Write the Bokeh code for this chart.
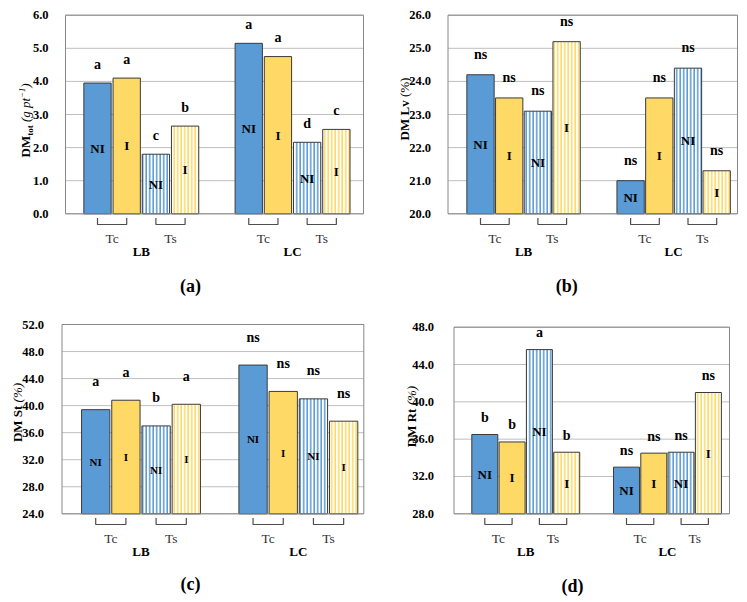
import math
from bokeh.plotting import figure
from bokeh.models import Range1d, FixedTicker, PrintfTickFormatter
from bokeh.layouts import column, row
from bokeh.embed import file_html
from bokeh.resources import INLINE
from bokeh.core.properties import value

FONT = "Liberation Serif"

# ---------------- data ----------------
bar_groups = ["LB", "LB", "LB", "LB", "LC", "LC", "LC", "LC"]
bar_treat = ["Tc", "Tc", "Ts", "Ts", "Tc", "Tc", "Ts", "Ts"]
bar_irr = ["NI", "I", "NI", "I", "NI", "I", "NI", "I"]
group_names = ["LB", "LC"]
treat_names = ["Tc", "Ts"]

dm_tot = [3.95, 4.10, 1.80, 2.65, 5.15, 4.75, 2.16, 2.55]
dm_tot_letters = ["a", "a", "c", "b", "a", "a", "d", "c"]
dm_tot_ticks = [0, 1, 2, 3, 4, 5, 6]

dm_lv = [24.2, 23.5, 23.1, 25.2, 21.0, 23.5, 24.4, 21.3]
dm_lv_letters = ["ns", "ns", "ns", "ns", "ns", "ns", "ns", "ns"]
dm_lv_ticks = [20, 21, 22, 23, 24, 25, 26]

dm_st = [39.4, 40.8, 37.0, 40.2, 46.0, 42.1, 41.0, 37.7]
dm_st_letters = ["a", "a", "b", "a", "ns", "ns", "ns", "ns"]
dm_st_ticks = [24, 28, 32, 36, 40, 44, 48, 52]

dm_rt = [36.5, 35.7, 45.6, 34.6, 33.0, 34.5, 34.6, 41.0]
dm_rt_letters = ["b", "b", "a", "b", "ns", "ns", "ns", "ns"]
dm_rt_ticks = [28, 32, 36, 40, 44, 48]

panel_titles = ["(a)", "(b)", "(c)", "(d)"]

# ---------------- styling ----------------
BLUE = "#5B9BD5"
YELLOW = "#FFD966"
COLORS = {"NI": BLUE, "I": YELLOW}
GRID = "#BFBFBF"
FRAME = "#888888"
EDGE = "#3A3A3A"

# approximate Times advance widths (em)
W_BOLD = {"D": .722, "M": .944, " ": .25, "L": .667, "v": .5, "S": .556, "t": .333,
          "R": .722, "o": .5}
W_REG = {" ": .25, "(": .333, "%": .833, ")": .333, "g": .5, "p": .5, "t": .278,
         "\u2212": .675, "1": .5}


def text_width(s, style, size):
    tbl = W_BOLD if style == "bold" else W_REG
    return sum(tbl.get(ch, .5) for ch in s) * size


def build(vals, letters, ticks, ylab_parts, title, g):
    W, H = g["W"], g["H"]
    bl, br, bt, bb = g["box"]
    ymin, ymax = ticks[0], ticks[-1]
    ppu = (bb - bt) / (ymax - ymin)
    sp, c1 = g["sp"], g["c1"]

    def px2x(px):
        return (px - c1) / sp

    def px2y(py):
        return ymin + (bb - py) / ppu

    p = figure(width=W, height=H,
               x_range=Range1d(px2x(0), px2x(W)),
               y_range=Range1d(px2y(H), px2y(0)),
               output_backend="svg", toolbar_location=None,
               x_axis_type=None, min_border=0,
               outline_line_color=None, background_fill_color="white",
               border_fill_color="white")
    p.ygrid.visible = False

    ax = p.yaxis[0]
    ax.fixed_location = px2x(bl)
    ax.ticker = FixedTicker(ticks=ticks)
    ax.formatter = PrintfTickFormatter(format="%.1f")
    ax.axis_line_color = None
    ax.major_tick_line_color = None
    ax.minor_tick_line_color = None
    ax.major_label_standoff = g["standoff"]
    ax.major_label_text_font = FONT
    ax.major_label_text_font_style = "bold"
    ax.major_label_text_font_size = "12.5px"
    ax.major_label_text_color = "black"

    xl, xr = px2x(bl), px2x(br)
    # grid lines
    p.segment(x0=[xl] * len(ticks), y0=ticks, x1=[xr] * len(ticks), y1=ticks,
              line_color=GRID, line_width=1)

    G = g["G"]
    xs = [(k % 4) + (k // 4) * G for k in range(len(vals))]
    bw = g["bw"] / sp

    for irr in ["NI", "I"]:
        sx = [xs[k] for k in range(8) if bar_irr[k] == irr and bar_treat[k] == "Tc"]
        sv = [vals[k] for k in range(8) if bar_irr[k] == irr and bar_treat[k] == "Tc"]
        p.vbar(x=sx, top=sv, bottom=ymin, width=bw, fill_color=COLORS[irr],
               line_color=EDGE, line_width=1)
        hx = [xs[k] for k in range(8) if bar_irr[k] == irr and bar_treat[k] == "Ts"]
        hv = [vals[k] for k in range(8) if bar_irr[k] == irr and bar_treat[k] == "Ts"]
        p.vbar(x=hx, top=hv, bottom=ymin, width=bw, fill_color="white",
               hatch_pattern="|", hatch_color=COLORS[irr], hatch_scale=3.5,
               hatch_weight=1.6, line_color=EDGE, line_width=1)

    # frame box
    p.quad(left=[xl], right=[xr], bottom=[ymin], top=[ymax], fill_color=None,
           line_color=FRAME, line_width=1)

    # significance letters
    p.text(x=xs, y=[v + g["loff"] / ppu for v in vals], text=letters,
           text_font=value(FONT), text_font_style="bold", text_font_size="14px",
           text_align="center", text_baseline="middle", text_color="black")
    # in-bar labels
    p.text(x=xs, y=[(ymin + v) / 2 for v in vals], text=bar_irr,
           text_font=value(FONT), text_font_style="bold",
           text_font_size=g["ni"], text_align="center", text_baseline="middle",
           text_color="black")

    # brackets and treatment / group labels
    yt, yb = px2y(217.5), px2y(224)
    bxs, bys, tx, tt = [], [], [], []
    gx = []
    for gi, gname in enumerate(group_names):
        for ti, tname in enumerate(treat_names):
            idx = [k for k in range(8) if bar_groups[k] == gname and bar_treat[k] == tname]
            x0, x1 = xs[idx[0]], xs[idx[-1]]
            bxs.append([x0, x0, x1, x1])
            bys.append([yt, yb, yb, yt])
            tx.append((x0 + x1) / 2)
            tt.append(tname)
        gidx = [k for k in range(8) if bar_groups[k] == gname]
        gx.append(sum(xs[k] for k in gidx) / len(gidx))
    p.multi_line(xs=bxs, ys=bys, line_color="#4D4D4D", line_width=1.2)
    p.text(x=tx, y=[px2y(238)] * len(tx), text=tt, text_font=value(FONT),
           text_font_size="13.5px", text_align="center", text_baseline="middle",
           text_color="#333333")
    p.text(x=gx, y=[px2y(250.5)] * len(gx), text=group_names, text_font=value(FONT),
           text_font_style="bold", text_font_size="13px", text_align="center",
           text_baseline="middle", text_color="black")

    # panel title
    p.text(x=[px2x(g["pl"][0])], y=[px2y(g["pl"][1])], text=[title],
           text_font=value(FONT), text_font_style="bold", text_font_size="18px",
           text_align="center", text_baseline="middle", text_color="black")

    # y axis label (mixed styles, rotated, centred on its middle line)
    total = 0
    for (s, style, size, shift, gap) in ylab_parts:
        total += gap + text_width(s, style, size)
    cx, cy = g["yl"]
    pos = cy + total / 2
    for (s, style, size, shift, gap) in ylab_parts:
        pos -= gap
        p.text(x=[px2x(cx + shift)], y=[px2y(pos)], text=[s], angle=math.pi / 2,
               text_font=value(FONT), text_font_style=style,
               text_font_size=f"{size}px", text_align="left",
               text_baseline="middle", text_color="black")
        pos -= text_width(s, style, size)
    return p


GA = dict(W=373, H=300, box=(65, 363, 14.7, 213.3), c1=97, sp=29.2, G=5.18, bw=27.3,
          loff=19, ni="13px", yl=(25, 120), pl=(190, 285), standoff=11)
GB = dict(W=374, H=300, box=(74.5, 364, 14.7, 213.3), c1=107, sp=28.7, G=5.23, bw=27.3,
          loff=20.5, ni="13px", yl=(30.5, 108.5), pl=(193.3, 285.7), standoff=11)
GC = dict(W=373, H=302, box=(61.5, 363.3, 24, 213.3), c1=95.2, sp=30.2, G=5.21, bw=28.3,
          loff=28, ni="11px", yl=(16.5, 112), pl=(190, 283.3), standoff=12)
GD = dict(W=374, H=302, box=(80.5, 356, 26.7, 213.3), c1=111.3, sp=27.3, G=5.19, bw=26,
          loff=17, ni="13px", yl=(37.5, 116), pl=(199, 285), standoff=14)

lab_a = [("DM", "bold", 13, 0, 0), ("tot", "bold", 9, 4.3, 0),
         ("(g pt", "italic", 13, 0, 3.25), ("\u22121", "italic", 8.5, -3.5, 0),
         (")", "italic", 13, 0, 0)]
lab_b = [("DM Lv", "bold", 13, 0, 0), ("(%)", "normal", 13, 0, 3.25)]
lab_c = [("DM St", "bold", 13, 0, 0), ("(%)", "italic", 13, 0, 3.25)]
lab_d = [("DM Rt", "bold", 13, 0, 0), ("(%)", "italic", 13, 0, 3.25)]

pa = build(dm_tot, dm_tot_letters, dm_tot_ticks, lab_a, panel_titles[0], GA)
pb = build(dm_lv, dm_lv_letters, dm_lv_ticks, lab_b, panel_titles[1], GB)
pc = build(dm_st, dm_st_letters, dm_st_ticks, lab_c, panel_titles[2], GC)
pd = build(dm_rt, dm_rt_letters, dm_rt_ticks, lab_d, panel_titles[3], GD)

layout = column(row(pa, pb), row(pc, pd))
open("out.html", "w").write(file_html(layout, INLINE))
